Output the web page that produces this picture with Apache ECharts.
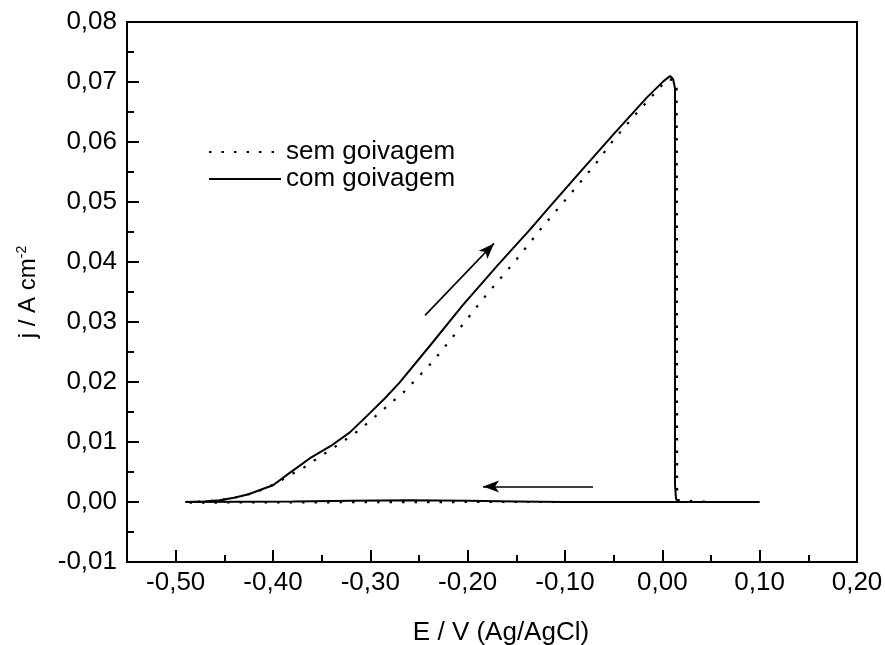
<!DOCTYPE html>
<html>
<head>
<meta charset="utf-8">
<script src="https://cdn.jsdelivr.net/npm/echarts@6/dist/echarts.min.js"></script>
<style>
html,body{margin:0;padding:0;background:#fff;}
#chart{width:885px;height:645px;}
</style>
</head>
<body>
<div id="chart"></div>
<script>
// Potential (V vs Ag/AgCl) and current density (A cm^-2), forward then reverse scan
const comE = [-0.490, -0.470, -0.455, -0.440, -0.425, -0.410, -0.400, -0.3825, -0.362, -0.341, -0.321, -0.300, -0.285, -0.270, -0.239, -0.205, -0.170, -0.150, -0.136, -0.119, -0.085, -0.050, -0.016, 0.001, 0.008, 0.011, 0.013, 0.013, 0.014, 0.016, 0.050, 0.100,
              0.100, 0.000, -0.100, -0.150, -0.200, -0.260, -0.320, -0.380, -0.490];
const comJ = [0, 0.0001, 0.0003, 0.0007, 0.0013, 0.0022, 0.0028, 0.0049, 0.0073, 0.0093, 0.0116, 0.0149, 0.0173, 0.0199, 0.0260, 0.0328, 0.0393, 0.0429, 0.0454, 0.0486, 0.0549, 0.0613, 0.0674, 0.0701, 0.0710, 0.0705, 0.0690, 0.0030, 0.0006, 0, 0, 0,
              0, 0, 0, 0.0001, 0.0002, 0.0003, 0.0002, 0.0001, 0];
const semE = [-0.490, -0.470, -0.455, -0.440, -0.425, -0.410, -0.396, -0.3825, -0.3705, -0.3586, -0.3466, -0.3345, -0.3226, -0.3106, -0.2644, -0.2353, -0.2079, -0.1804, -0.1514, -0.1411, -0.1239, -0.1051, -0.0863, -0.0674, -0.0503, -0.0298, -0.0109, -0.0007, 0.006, 0.012, 0.0147, 0.0152, 0.017, 0.050, 0.100,
              0.100, 0.000, -0.200, -0.490];
const semJ = [0, 0.0001, 0.0003, 0.0007, 0.0013, 0.0021, 0.0032, 0.0045, 0.0055, 0.0068, 0.0081, 0.0094, 0.0107, 0.0121, 0.0185, 0.0235, 0.0290, 0.0346, 0.0401, 0.0422, 0.0457, 0.0493, 0.0529, 0.0566, 0.0603, 0.0642, 0.0676, 0.0694, 0.0705, 0.0703, 0.0690, 0.0003, 0, 0, 0,
              0, 0, 0, -0.0001];
const seriesNames = ['sem goivagem', 'com goivagem'];
const xMajorTicks = [-0.50, -0.40, -0.30, -0.20, -0.10, 0.00, 0.10, 0.20];
const xMinorTicks = [-0.55, -0.45, -0.35, -0.25, -0.15, -0.05, 0.05, 0.15];
// Annotation arrows: [fromE, fromJ, toE, toJ]
const arrowUp = [-0.2438, 0.0311, -0.1729, 0.0431];
const arrowLeft = [-0.0712, 0.00258, -0.1842, 0.00258];

const zip = (a, b) => a.map((v, i) => [v, b[i]]);
const fmt = v => (Math.abs(v) < 1e-9 ? 0 : v).toFixed(2).replace('.', ',');
const FONT = 'Liberation Sans';

const chart = echarts.init(document.getElementById('chart'), null, {renderer: 'canvas'});
chart.setOption({
  animation: false,
  backgroundColor: '#fff',
  textStyle: {fontFamily: FONT, color: '#000'},
  grid: {left: 127, top: 22, right: 28, bottom: 83, containLabel: false, outerBoundsMode: 'none',
         show: true, borderColor: '#000', borderWidth: 2, backgroundColor: 'transparent'},
  legend: {
    orient: 'vertical', left: 203, top: 134, itemWidth: 72, itemHeight: 14, itemGap: 1,
    itemStyle: {opacity: 0},
    textStyle: {fontFamily: FONT, fontSize: 26, color: '#000'},
    data: seriesNames
  },
  xAxis: [{
    type: 'value', min: -0.55, max: 0.20,
    name: 'E / V (Ag/AgCl)', nameLocation: 'middle', nameGap: 58,
    nameTextStyle: {fontFamily: FONT, fontSize: 26, color: '#000', padding: [0, 0, 0, 18]},
    axisLine: {show: true, onZero: false, lineStyle: {color: '#000', width: 2}},
    axisTick: {show: true, inside: true, length: 12, customValues: xMajorTicks, lineStyle: {color: '#000', width: 2}},
    axisLabel: {show: true, customValues: xMajorTicks, formatter: fmt, fontFamily: FONT, fontSize: 26, color: '#000', margin: 8},
    splitLine: {show: false}
  }, {
    type: 'value', min: -0.55, max: 0.20, position: 'bottom',
    axisLine: {show: false, onZero: false},
    axisTick: {show: true, inside: true, length: 7, customValues: xMinorTicks, lineStyle: {color: '#000', width: 2}},
    axisLabel: {show: false},
    splitLine: {show: false}
  }],
  yAxis: {
    type: 'value', min: -0.01, max: 0.08, interval: 0.01,
    name: 'j / A cm{sup|-2}', nameLocation: 'middle', nameGap: 86, nameRotate: 90,
    nameTextStyle: {fontFamily: FONT, fontSize: 24, color: '#000',
      rich: {sup: {fontFamily: FONT, fontSize: 14, color: '#000', verticalAlign: 'bottom', padding: [0, 0, 12, 0]}}},
    axisLine: {show: true, onZero: false, lineStyle: {color: '#000', width: 2}},
    axisTick: {show: true, inside: true, length: 12, lineStyle: {color: '#000', width: 2}},
    minorTick: {show: true, splitNumber: 2, length: 7, lineStyle: {color: '#000', width: 2}},
    axisLabel: {formatter: fmt, fontFamily: FONT, fontSize: 26, color: '#000', margin: 10},
    splitLine: {show: false}, minorSplitLine: {show: false}
  },
  series: [{
    name: seriesNames[0], type: 'line', data: zip(semE, semJ), showSymbol: false, symbol: 'none',
    lineStyle: {color: '#000', width: 2.2, type: [2.5, 10]}, itemStyle: {color: '#000'}, z: 3
  }, {
    name: seriesNames[1], type: 'line', data: zip(comE, comJ), showSymbol: false, symbol: 'none',
    lineStyle: {color: '#000', width: 2, type: 'solid'}, itemStyle: {color: '#000'}, z: 4,
    markLine: {
      silent: true, symbol: ['none', 'arrow'], symbolSize: [9, 16], label: {show: false},
      lineStyle: {color: '#000', width: 1.6, type: 'solid'},
      emphasis: {disabled: true},
      data: [
        [{coord: [arrowUp[0], arrowUp[1]]}, {coord: [arrowUp[2], arrowUp[3]]}],
        [{coord: [arrowLeft[0], arrowLeft[1]]}, {coord: [arrowLeft[2], arrowLeft[3]]}]
      ]
    }
  }]
});
</script>
</body>
</html>
